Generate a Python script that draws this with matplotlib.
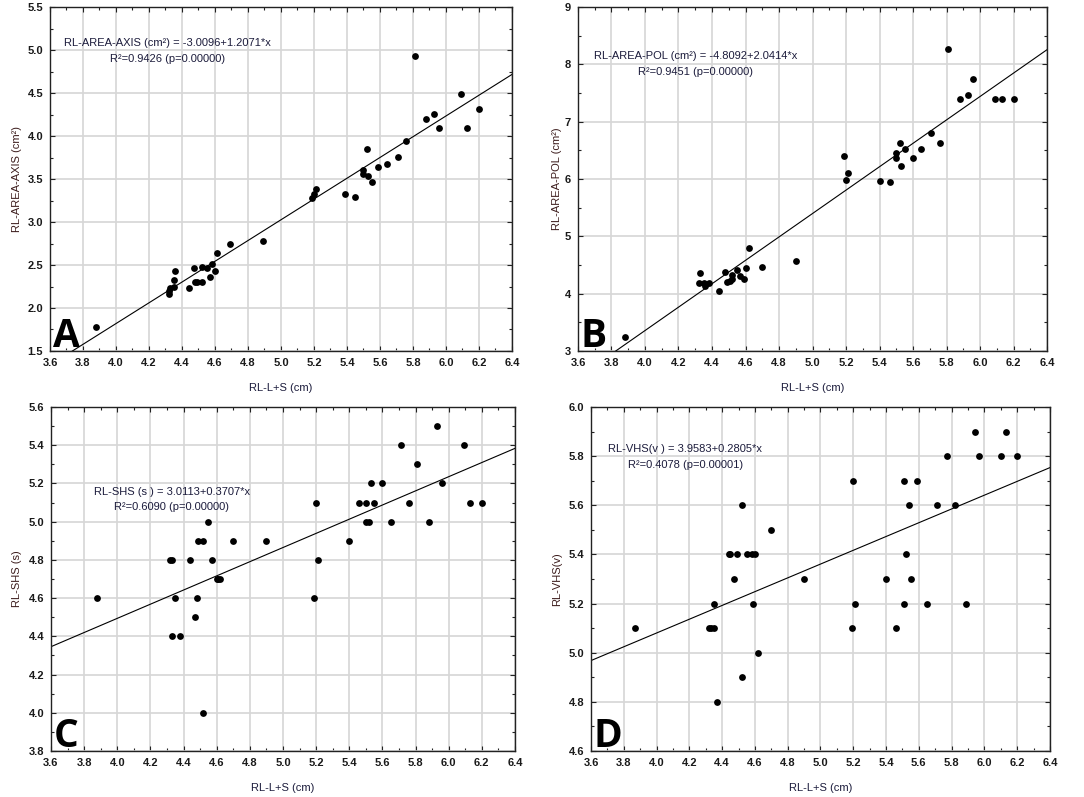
import numpy as np
import matplotlib
matplotlib.use("Agg")
import matplotlib.pyplot as plt
from matplotlib.ticker import MultipleLocator, FormatStrFormatter

plt.rcParams["font.family"] = ["Liberation Sans", "DejaVu Sans"]

# ---------------- data ----------------
# A: RL-AREA-AXIS vs RL-L+S
x_a = [3.88, 4.32, 4.32, 4.33, 4.35, 4.35, 4.36, 4.44, 4.47, 4.48, 4.49,
       4.52, 4.52, 4.55, 4.57, 4.58, 4.60, 4.61, 4.69, 4.89, 5.19, 5.20,
       5.21, 5.39, 5.45, 5.50, 5.50, 5.52, 5.53, 5.55, 5.59, 5.64, 5.71,
       5.76, 5.81, 5.88, 5.93, 5.96, 6.09, 6.13, 6.20]
y_a = [1.78, 2.16, 2.20, 2.23, 2.25, 2.32, 2.43, 2.23, 2.47, 2.30, 2.30,
       2.30, 2.48, 2.47, 2.36, 2.51, 2.43, 2.64, 2.75, 2.78, 3.28, 3.33,
       3.38, 3.33, 3.29, 3.61, 3.56, 3.85, 3.53, 3.46, 3.64, 3.67, 3.76,
       3.94, 4.93, 4.20, 4.26, 4.09, 4.49, 4.09, 4.31]

# B: RL-AREA-POL vs RL-L+S
x_b = [3.88, 4.32, 4.33, 4.35, 4.36, 4.38, 4.44, 4.48, 4.49, 4.51, 4.52,
       4.52, 4.55, 4.57, 4.59, 4.60, 4.62, 4.70, 4.90, 5.19, 5.20, 5.21,
       5.40, 5.46, 5.50, 5.50, 5.52, 5.53, 5.55, 5.60, 5.65, 5.71, 5.76,
       5.81, 5.88, 5.93, 5.96, 6.09, 6.13, 6.20]
y_b = [3.25, 4.19, 4.36, 4.18, 4.13, 4.19, 4.05, 4.38, 4.21, 4.22, 4.26,
       4.32, 4.42, 4.30, 4.25, 4.45, 4.79, 4.47, 4.57, 6.41, 5.99, 6.11,
       5.97, 5.94, 6.36, 6.45, 6.62, 6.23, 6.52, 6.37, 6.52, 6.81, 6.62,
       8.27, 7.39, 7.46, 7.74, 7.39, 7.39, 7.39]

# C: RL-SHS vs RL-L+S
x_c = [3.88, 4.32, 4.33, 4.33, 4.35, 4.38, 4.44, 4.47, 4.48, 4.49, 4.52,
       4.52, 4.55, 4.57, 4.60, 4.61, 4.62, 4.70, 4.90, 5.19, 5.20, 5.21,
       5.40, 5.46, 5.50, 5.50, 5.52, 5.53, 5.55, 5.60, 5.65, 5.71, 5.76,
       5.81, 5.88, 5.93, 5.96, 6.09, 6.13, 6.20]
y_c = [4.6, 4.8, 4.8, 4.4, 4.6, 4.4, 4.8, 4.5, 4.6, 4.9, 4.9,
       4.0, 5.0, 4.8, 4.7, 4.7, 4.7, 4.9, 4.9, 4.6, 5.1, 4.8,
       4.9, 5.1, 5.1, 5.0, 5.0, 5.2, 5.1, 5.2, 5.0, 5.4, 5.1,
       5.3, 5.0, 5.5, 5.2, 5.4, 5.1, 5.1]

# D: RL-VHS vs RL-L+S
x_d = [3.87, 4.32, 4.33, 4.35, 4.35, 4.37, 4.44, 4.45, 4.47, 4.49, 4.52,
       4.52, 4.55, 4.58, 4.60, 4.59, 4.62, 4.70, 4.90, 5.19, 5.20, 5.21,
       5.40, 5.46, 5.51, 5.51, 5.52, 5.54, 5.55, 5.59, 5.65, 5.71, 5.77,
       5.82, 5.89, 5.94, 5.97, 6.10, 6.13, 6.20]
y_d = [5.1, 5.1, 5.1, 5.1, 5.2, 4.8, 5.4, 5.4, 5.3, 5.4, 5.6,
       4.9, 5.4, 5.4, 5.4, 5.2, 5.0, 5.5, 5.3, 5.1, 5.7, 5.2,
       5.3, 5.1, 5.7, 5.2, 5.4, 5.6, 5.3, 5.7, 5.2, 5.6, 5.8,
       5.6, 5.2, 5.9, 5.8, 5.8, 5.9, 5.8]

# regression coefficients (intercept, slope) as printed on the chart
fit_a = (-3.0096, 1.2071)
fit_b = (-4.8092, 2.0414)
fit_c = (3.0113, 0.3707)
fit_d = (3.9583, 0.2805)

eq_a = ["RL-AREA-AXIS (cm²) = -3.0096+1.2071*x", "R²=0.9426 (p=0.00000)"]
eq_b = ["RL-AREA-POL (cm²) = -4.8092+2.0414*x", "R²=0.9451 (p=0.00000)"]
eq_c = ["RL-SHS (s ) = 3.0113+0.3707*x", "R²=0.6090 (p=0.00000)"]
eq_d = ["RL-VHS(v ) = 3.9583+0.2805*x", "R²=0.4078 (p=0.00001)"]

ylab_a = "RL-AREA-AXIS (cm²)"
ylab_b = "RL-AREA-POL (cm²)"
ylab_c = "RL-SHS (s)"
ylab_d = "RL-VHS(v)"
xlab = "RL-L+S (cm)"

# ---------------- figure ----------------
fig = plt.figure(figsize=(10.84, 7.97), dpi=100)

panels = [
    # rect, x, y, fit, eq, ylabel, letter, ylim, ystep, yfmt, eq pos, ylabel x
    ([0.0461, 0.5596, 0.4262, 0.4316], x_a, y_a, fit_a, eq_a, ylab_a, "A",
     (1.5, 5.5), 0.5, "%.1f", (0.255, 0.895, 0.849), -0.061),
    ([0.5332, 0.5596, 0.4327, 0.4316], x_b, y_b, fit_b, eq_b, ylab_b, "B",
     (3, 9), 1, "%d", (0.251, 0.857, 0.811), -0.034),
    ([0.0470, 0.0577, 0.4281, 0.4316], x_c, y_c, fit_c, eq_c, ylab_c, "C",
     (3.8, 5.6), 0.2, "%.1f", (0.260, 0.753, 0.709), -0.0625),
    ([0.5452, 0.0577, 0.4234, 0.4316], x_d, y_d, fit_d, eq_d, ylab_d, "D",
     (4.6, 6.0), 0.2, "%.1f", (0.205, 0.878, 0.831), -0.063),
]

for rect, xs, ys, fit, eq, ylab, letter, ylim, ystep, yfmt, eqpos, ylx in panels:
    ax = fig.add_axes(rect)
    ax.set_xlim(3.6, 6.4)
    ax.set_ylim(*ylim)

    ax.xaxis.set_major_locator(MultipleLocator(0.2))
    ax.xaxis.set_minor_locator(MultipleLocator(0.1))
    ax.yaxis.set_major_locator(MultipleLocator(ystep))
    ax.yaxis.set_minor_locator(MultipleLocator(ystep / 2))
    ax.xaxis.set_major_formatter(FormatStrFormatter("%.1f"))
    ax.yaxis.set_major_formatter(FormatStrFormatter(yfmt))

    ax.grid(True, which="major", color="#d6d6d6", linewidth=1.2)
    ax.set_axisbelow(True)
    ax.tick_params(which="both", direction="in", top=True, right=True,
                   colors="#222222", labelcolor="#1a1a1a")
    ax.tick_params(which="major", length=3.5, width=0.8, labelsize=8, pad=5)
    ax.tick_params(which="minor", length=2.5, width=0.8)
    for lbl in ax.get_xticklabels() + ax.get_yticklabels():
        lbl.set_fontweight("bold")
    for sp in ax.spines.values():
        sp.set_color("#222222")
        sp.set_linewidth(1.0)

    ax.scatter(xs, ys, s=24, color="black", zorder=3, linewidths=0)

    lx = np.array(ax.get_xlim())
    ax.plot(lx, fit[0] + fit[1] * lx, color="black", linewidth=0.8, zorder=2)

    ex, ey1, ey2 = eqpos
    ax.text(ex, ey1, eq[0], transform=ax.transAxes, ha="center", va="center",
            fontsize=8, color="#1c1c3c")
    ax.text(ex, ey2, eq[1], transform=ax.transAxes, ha="center", va="center",
            fontsize=8, color="#1c1c3c")

    ax.text(0.006, 0.012, letter, transform=ax.transAxes, ha="left",
            va="baseline", fontsize=28, fontweight="bold", color="black",
            family=["Open Sans", "DejaVu Sans"])

    ax.set_xlabel(xlab, fontsize=8, color="#1c1c3c")
    ax.set_ylabel(ylab, fontsize=8, color="#3c1c1c")
    ax.xaxis.set_label_coords(0.5, -0.094)
    ax.yaxis.set_label_coords(ylx, 0.5)

fig.savefig("out.png", dpi=100)
